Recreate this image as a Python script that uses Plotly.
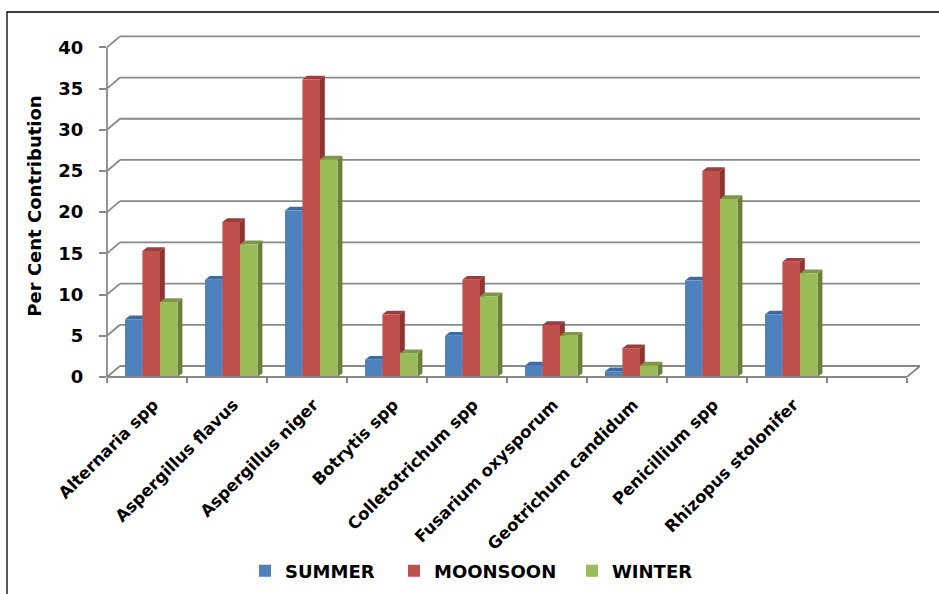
import plotly.graph_objects as go

categories = ["Alternaria spp", "Aspergillus flavus", "Aspergillus niger", "Botrytis spp",
              "Colletotrichum spp", "Fusarium oxysporum", "Geotrichum candidum",
              "Penicillium spp", "Rhizopus stolonifer"]
summer = [7.0, 11.8, 20.2, 2.1, 5.0, 1.4, 0.7, 11.7, 7.6]
moonsoon = [15.3, 18.8, 36.1, 7.6, 11.8, 6.3, 3.5, 25.0, 14.0]
winter = [9.1, 16.1, 26.4, 2.9, 9.8, 5.0, 1.4, 21.6, 12.6]
series_names = ["SUMMER", "MOONSOON", "WINTER"]
y_ticks = [0, 5, 10, 15, 20, 25, 30, 35, 40]

front = ["#4F81BD", "#C0504D", "#9BBB59"]
side = ["#34608F", "#8E3432", "#69803A"]
top = ["#3D6CA3", "#A03C3A", "#7C9842"]

FONT = "DejaVu Sans"
n_slots = 10
WALL_DX, WALL_DY = 0.1625, 1.335   # back-wall offset (x units, y units)
BAR_W = 0.22
OFFS = [-0.275, -0.0575, 0.1625]
DX, DY = 0.06, 0.45                # bar depth
LABEL_SHIFT = 0.08

fig = go.Figure()
shapes = []
grid_col = "#898989"
# back wall gridlines
for t in y_ticks:
    shapes.append(dict(type="line", xref="x", yref="y", x0=-0.5, y0=t,
                       x1=-0.5 + WALL_DX, y1=t + WALL_DY,
                       line=dict(color=grid_col, width=1.8), layer="below"))
    shapes.append(dict(type="line", xref="x", yref="y", x0=-0.5 + WALL_DX, y0=t + WALL_DY,
                       x1=n_slots - 0.5 + WALL_DX, y1=t + WALL_DY,
                       line=dict(color=grid_col, width=1.8), layer="below"))
# floor right diagonal
shapes.append(dict(type="line", xref="x", yref="y", x0=n_slots - 0.5, y0=0,
                   x1=n_slots - 0.5 + WALL_DX, y1=WALL_DY,
                   line=dict(color=grid_col, width=1.8), layer="below"))
# front axis lines
shapes.append(dict(type="line", xref="x", yref="paper", x0=-0.5, y0=0, x1=n_slots - 0.5, y1=0,
                   line=dict(color=grid_col, width=1.8), layer="above"))
shapes.append(dict(type="line", xref="paper", yref="y", x0=0, y0=0, x1=0, y1=40,
                   line=dict(color=grid_col, width=1.8), layer="above"))

# 3D faces of bars (drawn below traces so neighbouring fronts occlude them)
for si, vals in enumerate([summer, moonsoon, winter]):
    for ci, v in enumerate(vals):
        xl = ci + OFFS[si]
        xr = xl + BAR_W
        shapes.append(dict(type="path", xref="x", yref="y", layer="below",
                           path=f"M{xr},0 L{xr},{v} L{xr+DX},{v+DY} L{xr+DX},{DY} Z",
                           fillcolor=side[si], line=dict(width=0)))
        shapes.append(dict(type="path", xref="x", yref="y", layer="below",
                           path=f"M{xl},{v} L{xr},{v} L{xr+DX},{v+DY} L{xl+DX},{v+DY} Z",
                           fillcolor=top[si], line=dict(width=0)))

legend_ids = ["legend", "legend2", "legend3"]
legend_x = [245, 394, 572]
for si, (name, vals) in enumerate(zip(series_names, [summer, moonsoon, winter])):
    fig.add_trace(go.Bar(x=list(range(len(categories))), y=vals, name=name,
                         width=BAR_W, offset=OFFS[si], legend=legend_ids[si],
                         marker=dict(color=front[si], line=dict(width=0))))

# outer frame
L, T, H = 107, 35, 342
W = 813
shapes.append(dict(type="rect", xref="paper", yref="paper",
                   x0=(7 - L) / W, x1=(960 - L) / W,
                   y0=(T + H - 620) / H, y1=(T + H - 12) / H,
                   line=dict(color="black", width=1.3), layer="above"))

legend_font = dict(family=FONT, size=18, color="black", weight="bold")
legends = {}
for lid, lx in zip(legend_ids, legend_x):
    legends[lid] = dict(orientation="h", xref="container", yref="container",
                        x=lx / 939, xanchor="left", y=1 - 571 / 594, yanchor="middle",
                        font=legend_font, bgcolor="rgba(0,0,0,0)")

fig.update_layout(
    width=939, height=594,
    margin=dict(l=L, r=939 - L - W, t=T, b=594 - T - H, autoexpand=False),
    paper_bgcolor="white", plot_bgcolor="white",
    barmode="group",
    shapes=shapes,
    showlegend=True,
    font=dict(family=FONT, color="black"),
    **legends,
)
fig.update_xaxes(range=[-0.5, n_slots - 0.5 + WALL_DX], automargin=False,
                 tickmode="array", tickvals=[i + LABEL_SHIFT for i in range(len(categories))],
                 ticktext=categories,
                 tickangle=-45, ticks="", showgrid=False, zeroline=False, showline=False,
                 ticklabelstandoff=14,
                 tickfont=dict(family=FONT, size=16.5, color="black", weight="bold"),
                 minor=dict(tickmode="array", tickvals=[i - 0.5 for i in range(n_slots + 1)],
                            ticks="outside", ticklen=5, tickcolor=grid_col, tickwidth=1.5,
                            showgrid=False))
fig.update_yaxes(range=[0, 41.5], automargin=False, tickmode="array", tickvals=y_ticks,
                 ticks="outside", ticklen=7, tickcolor=grid_col, tickwidth=1.5,
                 showgrid=False, zeroline=False, showline=False,
                 ticklabelstandoff=12,
                 tickfont=dict(family=FONT, size=18, color="black", weight="bold"),
                 title=dict(text="Per Cent Contribution", standoff=12,
                            font=dict(family=FONT, size=18, color="black", weight="bold")))

fig.write_html("out.html")
